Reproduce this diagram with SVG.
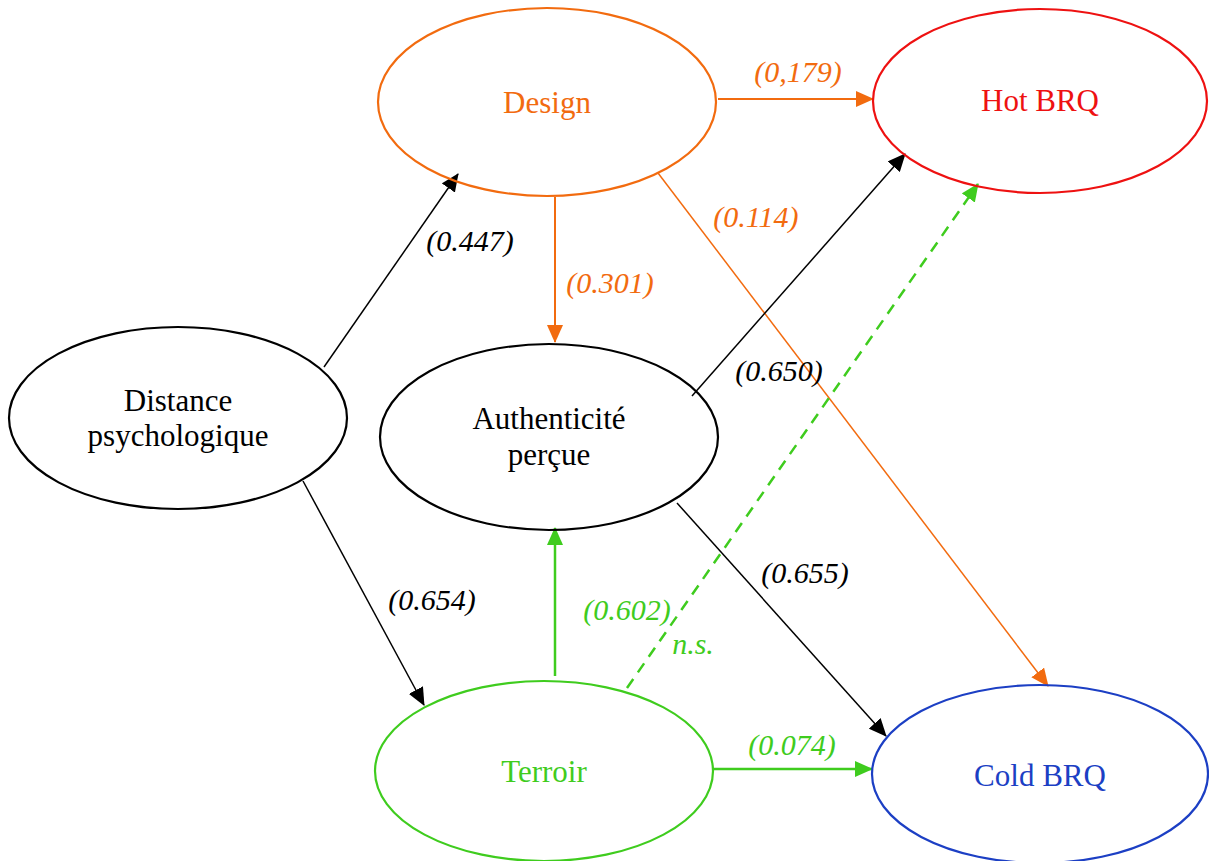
<svg xmlns="http://www.w3.org/2000/svg" width="1209" height="861" viewBox="0 0 1209 861">
<defs>
<style>
.n{fill:none;stroke-width:2.2}
.t{font-family:"Liberation Serif","Times New Roman",serif;font-size:31px;text-anchor:middle}
.l{font-family:"Liberation Serif","Times New Roman",serif;font-size:30px;font-style:italic;text-anchor:middle}
.c{fill:none}
</style>
<marker id="ak" markerUnits="userSpaceOnUse" markerWidth="18" markerHeight="16" refX="17" refY="8" orient="auto"><path d="M0,0 L18,8 L0,16 Z" fill="#000"/></marker>
<marker id="ao" markerUnits="userSpaceOnUse" markerWidth="18" markerHeight="16" refX="17" refY="8" orient="auto"><path d="M0,0 L18,8 L0,16 Z" fill="#f26b0f"/></marker>
<marker id="ag" markerUnits="userSpaceOnUse" markerWidth="18" markerHeight="16" refX="17" refY="8" orient="auto"><path d="M0,0 L18,8 L0,16 Z" fill="#3fcc1e"/></marker>
</defs>
<rect width="1209" height="861" fill="#fff"/>
<g id="connectors">
<line class="c" x1="718" y1="99" x2="873" y2="99" stroke="#f26b0f" stroke-width="2" marker-end="url(#ao)"/>
<line class="c" x1="555" y1="197" x2="555" y2="342" stroke="#f26b0f" stroke-width="2" marker-end="url(#ao)"/>
<line class="c" x1="658" y1="173" x2="1048" y2="686" stroke="#f26b0f" stroke-width="1.5" marker-end="url(#ao)"/>
<line class="c" x1="324" y1="367" x2="458" y2="174" stroke="#000" stroke-width="1.5" marker-end="url(#ak)"/>
<line class="c" x1="303" y1="481" x2="424" y2="705" stroke="#000" stroke-width="1.5" marker-end="url(#ak)"/>
<line class="c" x1="692" y1="396" x2="905" y2="154" stroke="#000" stroke-width="1.5" marker-end="url(#ak)"/>
<line class="c" x1="677" y1="503" x2="886" y2="736" stroke="#000" stroke-width="1.5" marker-end="url(#ak)"/>
<line class="c" x1="555" y1="676" x2="555" y2="528" stroke="#3fcc1e" stroke-width="2.5" marker-end="url(#ag)"/>
<line class="c" x1="627" y1="688" x2="978" y2="184" stroke="#3fcc1e" stroke-width="2.5" stroke-dasharray="11,8" marker-end="url(#ag)"/>
<line class="c" x1="713" y1="769" x2="872" y2="769" stroke="#3fcc1e" stroke-width="2.5" marker-end="url(#ag)"/>
<text class="l" x="798" y="82" fill="#f26b0f">(0,179)</text>
<text class="l" x="610" y="293" fill="#f26b0f">(0.301)</text>
<text class="l" x="756" y="227" fill="#f26b0f">(0.114)</text>
<text class="l" x="470" y="251" fill="#000">(0.447)</text>
<text class="l" x="432" y="610" fill="#000">(0.654)</text>
<text class="l" x="779" y="381" fill="#000">(0.650)</text>
<text class="l" x="805" y="583" fill="#000">(0.655)</text>
<text class="l" x="627" y="620" fill="#3fcc1e">(0.602)</text>
<text class="l" x="693" y="654" fill="#3fcc1e">n.s.</text>
<text class="l" x="792" y="755" fill="#3fcc1e">(0.074)</text>
</g>
<g id="design"><ellipse class="n" cx="547" cy="102" rx="169" ry="94" stroke="#f26b0f"/><text class="t" x="547" y="113" fill="#f26b0f">Design</text></g>
<g id="hotbrq"><ellipse class="n" cx="1040" cy="101" rx="167" ry="92" stroke="#ee1111"/><text class="t" x="1040" y="111" fill="#ee1111">Hot BRQ</text></g>
<g id="distance"><ellipse class="n" cx="178" cy="418" rx="169" ry="91" stroke="#000"/><text class="t" x="178" y="411" fill="#000">Distance</text><text class="t" x="178" y="446" fill="#000">psychologique</text></g>
<g id="authenticite"><ellipse class="n" cx="549" cy="437" rx="169" ry="93" stroke="#000"/><text class="t" x="549" y="429" fill="#000">Authenticité</text><text class="t" x="549" y="465" fill="#000">perçue</text></g>
<g id="terroir"><ellipse class="n" cx="544" cy="771" rx="169" ry="90" stroke="#3fcc1e"/><text class="t" x="544" y="782" fill="#3fcc1e">Terroir</text></g>
<g id="coldbrq"><ellipse class="n" cx="1040" cy="774" rx="168" ry="89" stroke="#1c3fc4"/><text class="t" x="1040" y="786" fill="#1c3fc4">Cold BRQ</text></g>
</svg>
